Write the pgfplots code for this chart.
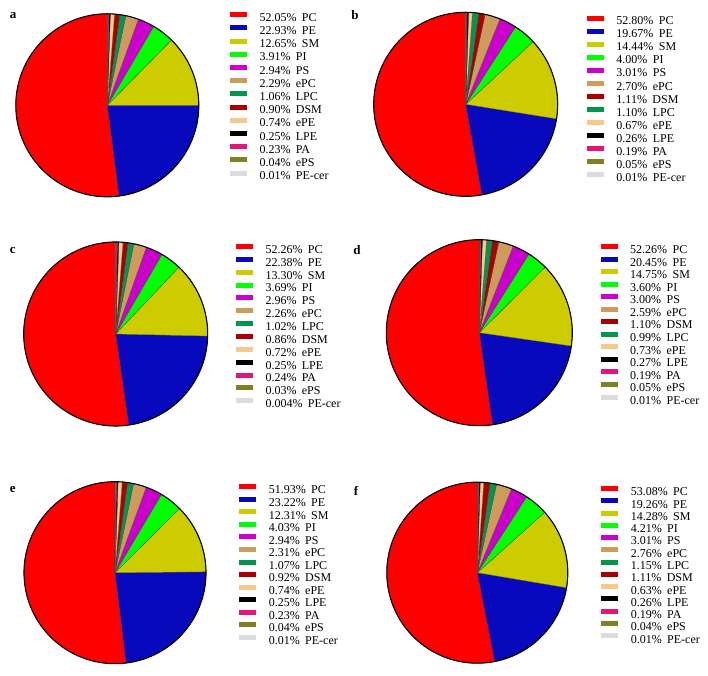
\documentclass[border=0pt]{standalone}
\usepackage{pgfplots}
\pgfplotsset{compat=1.18}
\usepackage{fontspec}
\setmainfont{Liberation Serif}
\definecolor{cPC}{RGB}{255,0,0}
\definecolor{cPE}{RGB}{8,8,188}
\definecolor{cSM}{RGB}{204,204,0}
\definecolor{cPI}{RGB}{0,255,0}
\definecolor{cPS}{RGB}{204,0,204}
\definecolor{cePC}{RGB}{205,155,90}
\definecolor{cLPC}{RGB}{0,150,80}
\definecolor{cDSM}{RGB}{170,0,0}
\definecolor{cePE}{RGB}{245,200,140}
\definecolor{cLPE}{RGB}{0,0,0}
\definecolor{cPA}{RGB}{230,20,120}
\definecolor{cePS}{RGB}{128,128,32}
\definecolor{cPEcer}{RGB}{220,220,220}

% #1 cx, #2 cy (from top), #3 radius, #4 legend rel x, #5 legend rel y, #6 text depth, #7 data list
\newcommand{\piepanel}[7]{%
\begin{axis}[at={(#1bp,676bp-#2bp)}, anchor=center,
  x=#3bp, y=#3bp, xmin=-1, xmax=1, ymin=-1, ymax=1,
  hide axis, clip=false,
  legend cell align=left,
  legend style={at={(#4,#5)}, anchor=north west, draw=none, fill=none,
    inner sep=0pt, outer sep=0pt, row sep=0pt,
    font=\fontsize{12bp}{12bp}\selectfont,
    nodes={inner sep=0pt, outer sep=0pt, text height=9bp, text depth=#6bp},
    /tikz/every odd column/.style={column sep=12.5bp}},
  legend image code/.code={\path[##1, draw=none] (0bp,1.6bp) rectangle (17bp,6.6bp);}]
\gdef\ang{90}%
\foreach \v/\n/\c in {#7} {%
  \pgfmathsetmacro\b{\ang+3.6*\v}%
  \edef\tmp{\noexpand\addplot[fill=\c, draw=black!75, line width=0.25bp,
     domain=\ang:\b, samples=61] ({cos(x)},{sin(x)}) -- (axis cs:0,0) -- cycle;
     \noexpand\addlegendentry{\v\noexpand\%\noexpand\hspace{0.45em}\n}}%
  \tmp
  \xdef\ang{\b}%
}
\addplot[forget plot, black, line width=1.1bp, domain=0:360, samples=181] ({cos(x)},{sin(x)});
\end{axis}}

\begin{document}
\begin{tikzpicture}
\useasboundingbox (0,0) rectangle (708bp,676bp);
% panel a
\piepanel{107.3}{105.3}{91.5}{1.1705}{1.0082}{4.2}{52.05/PC/cPC, 22.93/PE/cPE, 12.65/SM/cSM, 3.91/PI/cPI, 2.94/PS/cPS, 2.29/ePC/cePC, 1.06/LPC/cLPC, 0.90/DSM/cDSM, 0.74/ePE/cePE, 0.25/LPE/cLPE, 0.23/PA/cPA, 0.04/ePS/cePS, 0.01/PE-cer/cPEcer}
% panel b
\piepanel{465.7}{104.3}{92}{1.1592}{0.9815}{3.86}{52.80/PC/cPC, 19.67/PE/cPE, 14.44/SM/cSM, 4.00/PI/cPI, 3.01/PS/cPS, 2.70/ePC/cePC, 1.11/DSM/cDSM, 1.10/LPC/cLPC, 0.67/ePE/cePE, 0.26/LPE/cLPE, 0.19/PA/cPA, 0.05/ePS/cePS, 0.01/PE-cer/cPEcer}
% panel c
\piepanel{115.7}{334}{92}{1.1538}{0.9891}{3.5}{52.26/PC/cPC, 22.38/PE/cPE, 13.30/SM/cSM, 3.69/PI/cPI, 2.96/PS/cPS, 2.26/ePC/cePC, 1.02/LPC/cLPC, 0.86/DSM/cDSM, 0.72/ePE/cePE, 0.25/LPE/cLPE, 0.24/PA/cPA, 0.03/ePS/cePS, 0.004/PE-cer/cPEcer}
% panel d
\piepanel{479.3}{332.7}{93}{1.1527}{0.9769}{2.9}{52.26/PC/cPC, 20.45/PE/cPE, 14.75/SM/cSM, 3.60/PI/cPI, 3.00/PS/cPS, 2.59/ePC/cePC, 1.10/DSM/cDSM, 0.99/LPC/cLPC, 0.73/ePE/cePE, 0.27/LPE/cLPE, 0.19/PA/cPA, 0.05/ePS/cePS, 0.01/PE-cer/cPEcer}
% panel e
\piepanel{115}{572.7}{91}{1.183}{0.9857}{2.87}{51.93/PC/cPC, 23.22/PE/cPE, 12.31/SM/cSM, 4.03/PI/cPI, 2.94/PS/cPS, 2.31/ePC/cePC, 1.07/LPC/cLPC, 0.92/DSM/cDSM, 0.74/ePE/cePE, 0.25/LPE/cLPE, 0.23/PA/cPA, 0.04/ePS/cePS, 0.01/PE-cer/cPEcer}
% panel f
\piepanel{477.3}{572.7}{90.5}{1.1851}{0.979}{2.33}{53.08/PC/cPC, 19.26/PE/cPE, 14.28/SM/cSM, 4.21/PI/cPI, 3.01/PS/cPS, 2.76/ePC/cePC, 1.15/LPC/cLPC, 1.11/DSM/cDSM, 0.63/ePE/cePE, 0.26/LPE/cLPE, 0.19/PA/cPA, 0.04/ePS/cePS, 0.01/PE-cer/cPEcer}
% panel labels
\begin{scope}[every node/.style={font=\bfseries\fontsize{13bp}{13bp}\selectfont, inner sep=0pt}]
\node at (13bp,660bp) {a};
\node at (355bp,661bp) {b};
\node at (12.7bp,425bp) {c};
\node at (357bp,426bp) {d};
\node at (12.7bp,186bp) {e};
\node at (356bp,185bp) {f};
\end{scope}
\end{tikzpicture}
\end{document}
